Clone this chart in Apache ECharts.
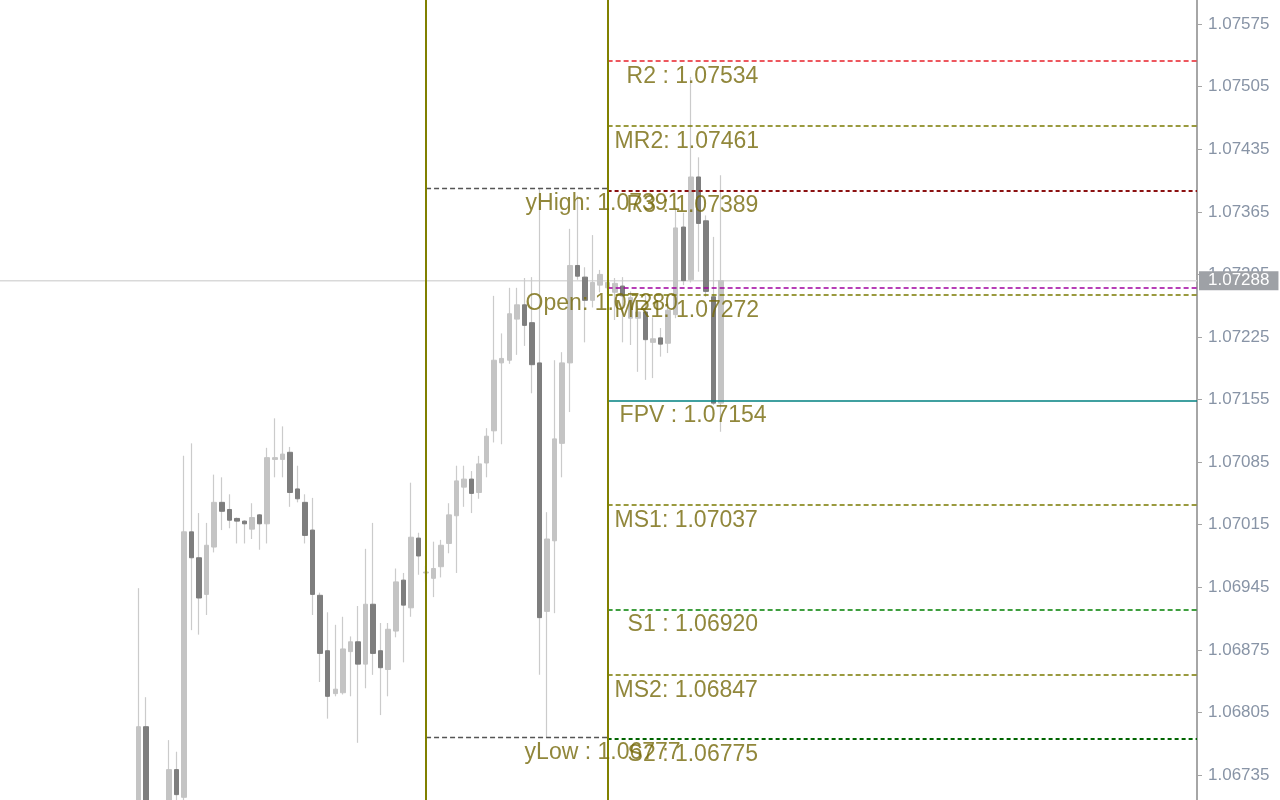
<!DOCTYPE html>
<html>
<head>
<meta charset="utf-8">
<script src="https://cdn.jsdelivr.net/npm/echarts@6/dist/echarts.min.js"></script>
<style>
html,body{margin:0;padding:0;background:#ffffff;}
#chart{width:1280px;height:800px;}
</style>
</head>
<body>
<div id="chart"></div>
<script>
// ---- Data (H1 candles, left to right) ----
const opens = [1.06690,1.06789,1.06685,1.06651,1.06673,1.06741,1.06710,1.07007,1.06978,1.06937,
  1.06990,1.07040,1.07032,1.07022,1.07019,1.07010,1.07026,1.07016,1.07088,1.07088,
  1.07096,1.07055,1.07040,1.07009,1.06936,1.06874,1.06826,1.06827,1.06873,1.06884,
  1.06859,1.06926,1.06874,1.06853,1.06896,1.06953,1.06922,1.07000,1.06961,1.06955,
  1.06968,1.06994,1.07025,1.07057,1.07066,1.07051,1.07084,1.07120,1.07196,1.07199,
  1.07245,1.07261,1.07241,1.07196,1.06918,1.06997,1.07106,1.07196,1.07305,1.07292,
  1.07266,1.07283,1.07280,1.07275,1.07282,1.07246,1.07246,1.07253,1.07219,1.07224,
  1.07218,1.07250,1.07348,1.07289,1.07404,1.07355,1.07270,1.07151];
const closes = [1.06789,1.06685,1.06651,1.06668,1.06741,1.06713,1.07007,1.06978,1.06933,1.06992,
  1.07040,1.07030,1.07020,1.07019,1.07016,1.07023,1.07016,1.07090,1.07090,1.07094,
  1.07051,1.07044,1.07003,1.06937,1.06871,1.06823,1.06831,1.06876,1.06884,1.06859,
  1.06926,1.06871,1.06855,1.06898,1.06951,1.06925,1.07001,1.06980,1.06962,1.06966,
  1.06992,1.07026,1.07064,1.07066,1.07050,1.07083,1.07114,1.07199,1.07201,1.07251,
  1.07261,1.07238,1.07194,1.06911,1.06999,1.07111,1.07196,1.07305,1.07293,1.07266,
  1.07286,1.07295,1.07286,1.07285,1.07271,1.07269,1.07253,1.07222,1.07223,1.07217,
  1.07255,1.07347,1.07288,1.07404,1.07352,1.07276,1.07151,1.07288];
const highs = [1.06944,1.06822,1.06696,1.06690,1.06774,1.06761,1.07092,1.07106,1.07028,1.07017,
  1.07071,1.07068,1.07049,1.07023,1.07020,1.07039,1.07027,1.07101,1.07134,1.07125,
  1.07102,1.07081,1.07049,1.07045,1.06939,1.06917,1.06903,1.06912,1.06890,1.06924,
  1.06988,1.07017,1.06905,1.06905,1.06966,1.06961,1.07062,1.07006,1.06969,1.06996,
  1.06998,1.07039,1.07081,1.07081,1.07075,1.07092,1.07123,1.07271,1.07229,1.07280,
  1.07280,1.07291,1.07292,1.07391,1.07029,1.07199,1.07208,1.07346,1.07383,1.07303,
  1.07339,1.07300,1.07294,1.07291,1.07292,1.07276,1.07260,1.07272,1.07247,1.07235,
  1.07263,1.07370,1.07364,1.07516,1.07426,1.07361,1.07337,1.07406];
const lows = [1.06668,1.06662,1.06634,1.06629,1.06657,1.06696,1.06701,1.06897,1.06892,1.06914,
  1.06984,1.07009,1.07011,1.06994,1.06994,1.06999,1.06987,1.06994,1.07068,1.07068,
  1.07035,1.07040,1.06994,1.06914,1.06839,1.06798,1.06823,1.06825,1.06823,1.06771,
  1.06832,1.06847,1.06802,1.06823,1.06889,1.06861,1.06912,1.06959,1.06951,1.06934,
  1.06956,1.06983,1.06961,1.07035,1.07028,1.07044,1.07068,1.07107,1.07105,1.07195,
  1.07205,1.07215,1.07162,1.06847,1.06777,1.06916,1.07068,1.07141,1.07289,1.07219,
  1.07258,1.07275,1.07271,1.07244,1.07219,1.07216,1.07186,1.07177,1.07179,1.07203,
  1.07207,1.07246,1.07283,1.07286,1.07298,1.07270,1.07149,1.07119];

// candle index at which each new trading day starts (period separators)
const dayStarts = [38, 62];

// price axis tick labels
const yTicks = [1.06735,1.06805,1.06875,1.06945,1.07015,1.07085,1.07155,1.07225,1.07295,1.07365,1.07435,1.07505,1.07575];
const lastPrice = 1.07288;

// pivot / reference levels
const levelNames  = ['R2 : ','MR2: ','R3 : ','yHigh: ','Open: ','MR1: ','FPV : ','MS1: ','S1 : ','MS2: ','S2 : ','yLow : '];
const levelValues = [1.07534,1.07461,1.07389,1.07391,1.07280,1.07272,1.07154,1.07037,1.06920,1.06847,1.06775,1.06777];
const levelDay    = ['cur','cur','cur','prev','cur','cur','cur','cur','cur','cur','cur','prev'];

// ---- styles (not data) ----
const X_MIN = -18.32, X_MAX = 139.91;
const levelStyle = {
  'R2 : ':   {color:'#e8202a', width:1.5, type:[5,3], dx:19.5},
  'MR2: ':   {color:'#7a7a00', width:1.5, type:[5,3], dx:7.5},
  'R3 : ':   {color:'#8b1010', width:2, type:[4,3], dx:19.5},
  'yHigh: ': {color:'#555555', width:1.3, type:[5,3], dx:-81.5},
  'Open: ':  {color:'#a000a0', width:1.5, type:[5,3], dx:-81.5},
  'MR1: ':   {color:'#7a7a00', width:1.5, type:[5,3], dx:7.5},
  'FPV : ':  {color:'#008080', width:1.5, type:'solid', dx:12.5},
  'MS1: ':   {color:'#7a7a00', width:1.5, type:[5,3], dx:7.5},
  'S1 : ':   {color:'#008000', width:1.5, type:[5,3], dx:20.5},
  'MS2: ':   {color:'#7a7a00', width:1.5, type:[5,3], dx:7.5},
  'S2 : ':   {color:'#006400', width:2, type:[4,3], dx:20.5},
  'yLow : ': {color:'#555555', width:1.3, type:[5,3], dx:-82.5}
};
const FONT = "'Liberation Sans', Arial, sans-serif";
const LIGHT = '#c4c4c4', DARK = '#7e7e7e', WICK = '#cbcbcb';

const idx = opens.map((_, i) => i);
const wickData = idx.map(i => [i, opens[i], closes[i], lows[i], highs[i]]);
const bodyData = idx.map(i => [i, opens[i], closes[i], Math.min(opens[i], closes[i]), Math.max(opens[i], closes[i])]);

const levelLines = levelValues.map((v, k) => {
  const st = levelStyle[levelNames[k]];
  const from = levelDay[k] === 'prev' ? dayStarts[0] : dayStarts[1];
  const to = levelDay[k] === 'prev' ? dayStarts[1] : X_MAX;
  return [
    {coord: [from, v], lineStyle: {color: st.color, width: st.width, type: st.type, opacity: 1}},
    {coord: [to, v]}
  ];
});
const sepLines = dayStarts.map(d => ({xAxis: d, lineStyle: {color: '#808000', width: 2, type: 'solid', opacity: 1}}));

const labelData = levelValues.map((v, k) => {
  const st = levelStyle[levelNames[k]];
  return {
    value: [dayStarts[1], v],
    name: levelNames[k] + v.toFixed(5),
    label: {position: [st.dx, 16]}
  };
});

const chart = echarts.init(document.getElementById('chart'), null, {renderer: 'canvas'});
chart.setOption({
  animation: false,
  backgroundColor: '#ffffff',
  grid: {left: 0, right: 83, top: 0, bottom: 0, containLabel: false},
  xAxis: {type: 'value', min: X_MIN, max: X_MAX, show: false, splitLine: {show: false}},
  yAxis: {
    type: 'value', position: 'right', min: 1.06707, max: 1.07602, scale: true,
    axisLine: {show: true, onZero: false, lineStyle: {color: '#a6a6a6', width: 2}},
    axisTick: {show: true, length: 5, lineStyle: {color: '#a6a6a6', width: 1}, customValues: yTicks},
    axisLabel: {customValues: yTicks, formatter: v => v.toFixed(5), color: '#8894a6', fontSize: 17, fontFamily: FONT, margin: 11},
    splitLine: {show: false}
  },
  series: [
    {
      name: 'bid', type: 'line', silent: true, z: 1,
      data: [[X_MIN, lastPrice], [X_MAX, lastPrice]],
      showSymbol: false, symbol: 'none',
      lineStyle: {color: '#d9d9d9', width: 1.5},
      endLabel: {
        show: true, distance: 2,
        formatter: () => lastPrice.toFixed(5),
        color: '#ffffff', backgroundColor: '#9ea1a6', padding: [1, 9, 1, 9],
        fontSize: 17, fontFamily: FONT
      }
    },
    {
      name: 'wicks', type: 'candlestick', silent: true, z: 2,
      data: wickData, encode: {x: 0, y: [1, 2, 3, 4]},
      barWidth: 1,
      itemStyle: {color: WICK, color0: WICK, borderColor: WICK, borderColor0: WICK, borderWidth: 1.2}
    },
    {
      name: 'bodies', type: 'candlestick', silent: true, z: 3,
      data: bodyData, encode: {x: 0, y: [1, 2, 3, 4]},
      barWidth: 5,
      itemStyle: {color: LIGHT, color0: DARK, borderColor: LIGHT, borderColor0: DARK, borderWidth: 1}
    },
    {
      name: 'levels', type: 'scatter', silent: true, z: 6,
      symbolSize: 1, itemStyle: {color: 'rgba(0,0,0,0)'},
      data: labelData,
      label: {
        show: true, formatter: p => p.name,
        color: '#76690a', fontSize: 23, fontFamily: FONT,
        align: 'left', verticalAlign: 'middle'
      },
      markLine: {
        silent: true, symbol: 'none', z: 5, animation: false,
        label: {show: false},
        data: levelLines.concat(sepLines)
      }
    }
  ]
});
</script>
</body>
</html>
